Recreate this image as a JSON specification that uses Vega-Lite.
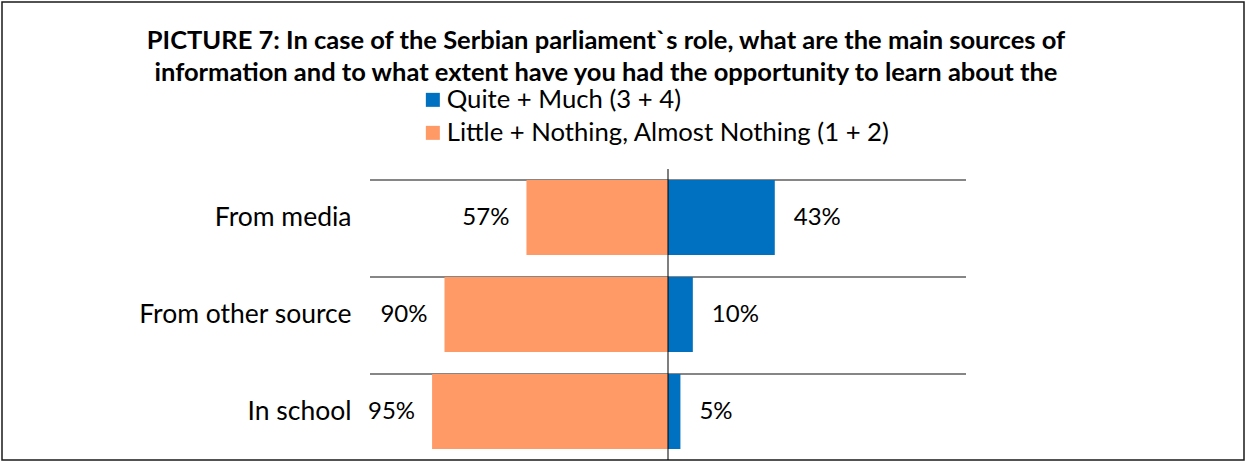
{
  "$schema": "https://vega.github.io/schema/vega-lite/v6.json",
  "width": 1242,
  "height": 458,
  "autosize": {"type": "none"},
  "padding": {"left": 2, "top": 2, "right": 3, "bottom": 2},
  "background": "white",
  "config": {
    "view": {"stroke": "#1a1a1a", "strokeWidth": 1.5},
    "font": "Lato"
  },
  "title": {
    "text": [
      "PICTURE 7: In case of the Serbian parliament`s role, what are the main sources of",
      "information and to what extent have you had the opportunity to learn about the"
    ],
    "orient": "top",
    "anchor": "middle",
    "frame": "group",
    "dx": -17,
    "offset": -84,
    "font": "Lato",
    "fontSize": 25.5,
    "fontWeight": "bold",
    "color": "black",
    "lineHeight": 32,
    "limit": 0
  },
  "data": {
    "values": [
      {"source": "From media", "group": "Quite + Much (3 + 4)", "value": 43, "label": "43%"},
      {"source": "From media", "group": "Little + Nothing, Almost Nothing (1 + 2)", "value": -57, "label": "57%"},
      {"source": "From other source", "group": "Quite + Much (3 + 4)", "value": 10, "label": "10%"},
      {"source": "From other source", "group": "Little + Nothing, Almost Nothing (1 + 2)", "value": -90, "label": "90%"},
      {"source": "In school", "group": "Quite + Much (3 + 4)", "value": 5, "label": "5%"},
      {"source": "In school", "group": "Little + Nothing, Almost Nothing (1 + 2)", "value": -95, "label": "95%"}
    ]
  },
  "encoding": {
    "y": {
      "field": "source",
      "type": "nominal",
      "sort": ["From media", "From other source", "In school"],
      "scale": {"range": [167, 458], "paddingInner": 0.227, "paddingOuter": 0.1135},
      "axis": {
        "title": null,
        "orient": "left",
        "offset": -368,
        "domain": false,
        "ticks": false,
        "grid": false,
        "labelPadding": 19,
        "labelFont": "Lato",
        "labelFontSize": 26.5,
        "labelColor": "black",
        "labelLimit": 0
      }
    }
  },
  "layer": [
    {
      "transform": [{"filter": "datum.value > 0"}],
      "mark": {"type": "rule", "color": "#868686", "strokeWidth": 2},
      "encoding": {
        "y": {"field": "source", "type": "nominal", "sort": ["From media", "From other source", "In school"], "bandPosition": 0},
        "x": {"datum": -120, "type": "quantitative", "scale": {"domain": [-120, 120], "range": [368, 964]}, "axis": null},
        "x2": {"datum": 120}
      }
    },
    {
      "mark": {"type": "bar"},
      "encoding": {
        "x": {"field": "value", "type": "quantitative", "stack": null},
        "color": {
          "field": "group",
          "type": "nominal",
          "scale": {
            "domain": ["Quite + Much (3 + 4)", "Little + Nothing, Almost Nothing (1 + 2)"],
            "range": ["#0070C0", "#FF9966"]
          },
          "legend": {
            "title": null,
            "orient": "none",
            "legendX": 418,
            "legendY": 85,
            "symbolType": "square",
            "symbolSize": 196,
            "symbolStrokeWidth": 0,
            "labelFont": "Lato",
            "labelFontSize": 25.7,
            "labelColor": "black",
            "labelOffset": 1,
            "labelLimit": 0,
            "rowPadding": 6,
            "padding": 0
          }
        }
      }
    },
    {
      "transform": [{"filter": "datum.value > 0"}],
      "mark": {"type": "tick", "color": "black", "thickness": 1, "size": 97, "opacity": 1},
      "encoding": {
        "x": {"datum": 0, "type": "quantitative"}
      }
    },
    {
      "transform": [{"filter": "datum.value < 0"}],
      "mark": {"type": "text", "align": "right", "dx": -17, "font": "Lato", "fontSize": 24, "color": "black"},
      "encoding": {
        "x": {"field": "value", "type": "quantitative"},
        "text": {"field": "label"}
      }
    },
    {
      "transform": [{"filter": "datum.value > 0"}],
      "mark": {"type": "text", "align": "left", "dx": 19, "font": "Lato", "fontSize": 24, "color": "black"},
      "encoding": {
        "x": {"field": "value", "type": "quantitative"},
        "text": {"field": "label"}
      }
    }
  ]
}
